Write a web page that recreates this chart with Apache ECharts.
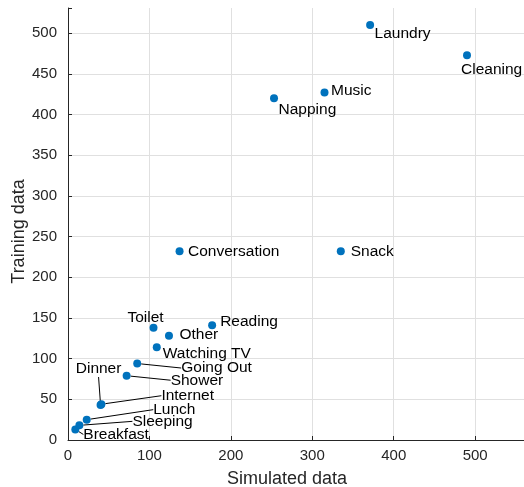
<!DOCTYPE html>
<html>
<head>
<meta charset="utf-8">
<script src="https://cdn.jsdelivr.net/npm/echarts@6/dist/echarts.min.js"></script>
<style>html,body{margin:0;padding:0;background:#fff;}#c{width:524px;height:487px;}</style>
</head>
<body>
<div id="c"></div>
<script>
var activities = ['Laundry','Cleaning','Music','Napping','Conversation','Snack','Reading','Toilet','Other','Watching TV','Going Out','Shower','Dinner','Internet','Lunch','Sleeping','Breakfast'];
var simulated = [371, 490, 315, 253, 137, 335, 177, 105, 124, 109, 85, 72, 40, 41, 23, 14, 9];
var training  = [510, 473, 427, 420, 232, 232, 141, 138, 128, 114, 94, 79, 43, 44, 25, 18, 13];
var xTicks = [0, 100, 200, 300, 400, 500];
var yTicks = [0, 50, 100, 150, 200, 250, 300, 350, 400, 450, 500];

// label placement (style, not data): offset from point centre in px
var labelPlace = {
  'Laundry':      {dx: 4.5, dy: 9,   align: 'left'},
  'Cleaning':     {dx: -6,  dy: 14.5, align: 'left'},
  'Music':        {dx: 6.5, dy: -1.5, align: 'left'},
  'Napping':      {dx: 4.5, dy: 11.5, align: 'left'},
  'Conversation': {dx: 8.5, dy: 0,   align: 'left'},
  'Snack':        {dx: 10,  dy: 0,   align: 'left'},
  'Reading':      {dx: 8,   dy: -4,  align: 'left'},
  'Toilet':       {dx: -8,  dy: -10.5, align: 'center'},
  'Other':        {dx: 10.5, dy: -1, align: 'left'},
  'Watching TV':  {dx: 6,   dy: 6,   align: 'left'},
  'Going Out':    {dx: 44,  dy: 4.5, align: 'left', line: true},
  'Shower':       {dx: 44,  dy: 4.5, align: 'left', line: true},
  'Dinner':       {dx: -2,  dy: -36, align: 'center', line: true},
  'Internet':     {dx: 60,  dy: -8.5, align: 'left', line: true},
  'Lunch':        {dx: 66.5, dy: -10, align: 'left', line: true},
  'Sleeping':     {dx: 53,  dy: -4,  align: 'left', line: true},
  'Breakfast':    {dx: 8,   dy: 5,   align: 'left', line: true}
};

var TXT = '#262626';
var GRID = '#e0e0e0';
var FONT = '"Liberation Sans", Arial, Helvetica, sans-serif';

var points = activities.map(function (n, i) {
  var p = labelPlace[n];
  return {
    name: n,
    value: [simulated[i], training[i]],
    labelLine: {show: !!p.line, length2: 0, lineStyle: {color: '#000', width: 1}}
  };
});

function gridColors(ticks) {
  var arr = ticks.map(function () { return GRID; });
  arr.push('rgba(0,0,0,0)');
  return arr;
}

var chart = echarts.init(document.getElementById('c'), null, {renderer: 'canvas'});
chart.setOption({
  animation: false,
  backgroundColor: '#fff',
  grid: {left: 68, top: 8, right: 0, bottom: 47, containLabel: false, outerBoundsMode: 'none'},
  xAxis: {
    type: 'value', min: 0, max: 560, interval: 100,
    name: 'Simulated data', nameLocation: 'middle', nameGap: 30, nameMoveOverlap: false,
    nameTextStyle: {color: TXT, fontSize: 18, fontFamily: FONT, padding: [0, 18, 0, 0]},
    axisLine: {show: true, onZero: false, lineStyle: {color: TXT, width: 1}},
    axisTick: {show: true, inside: true, length: 4, lineStyle: {color: TXT}},
    axisLabel: {color: TXT, fontSize: 15, fontFamily: FONT, margin: 8,
      formatter: function (v) { return xTicks.indexOf(v) >= 0 ? String(v) : ''; }},
    splitLine: {show: true, lineStyle: {color: gridColors(xTicks), width: 1}}
  },
  yAxis: {
    type: 'value', min: 0, max: 531, interval: 50,
    name: 'Training data', nameLocation: 'middle', nameGap: 40, nameMoveOverlap: false,
    nameTextStyle: {color: TXT, fontSize: 18, fontFamily: FONT, padding: [0, 15, 0, 0]},
    axisLine: {show: true, onZero: false, lineStyle: {color: TXT, width: 1}},
    axisTick: {show: true, inside: true, length: 4, lineStyle: {color: TXT}},
    axisLabel: {color: TXT, fontSize: 15, fontFamily: FONT, margin: 11,
      formatter: function (v) { return yTicks.indexOf(v) >= 0 ? String(v) : ''; }},
    splitLine: {show: true, lineStyle: {color: gridColors(yTicks), width: 1}}
  },
  series: [{
    type: 'scatter',
    symbol: 'circle',
    symbolSize: 8,
    itemStyle: {color: '#0072BD', opacity: 1},
    label: {
      show: true, position: 'right', distance: 0,
      formatter: '{b}', color: '#000', fontSize: 15.5, fontFamily: FONT
    },
    labelLayout: function (params) {
      var n = activities[params.dataIndex];
      var p = labelPlace[n];
      var r = params.rect;
      return {
        x: r.x + r.width / 2 + p.dx,
        y: r.y + r.height / 2 + p.dy,
        align: p.align,
        verticalAlign: 'middle',
        hideOverlap: false
      };
    },
    data: points,
    z: 3
  }]
});
</script>
</body>
</html>
